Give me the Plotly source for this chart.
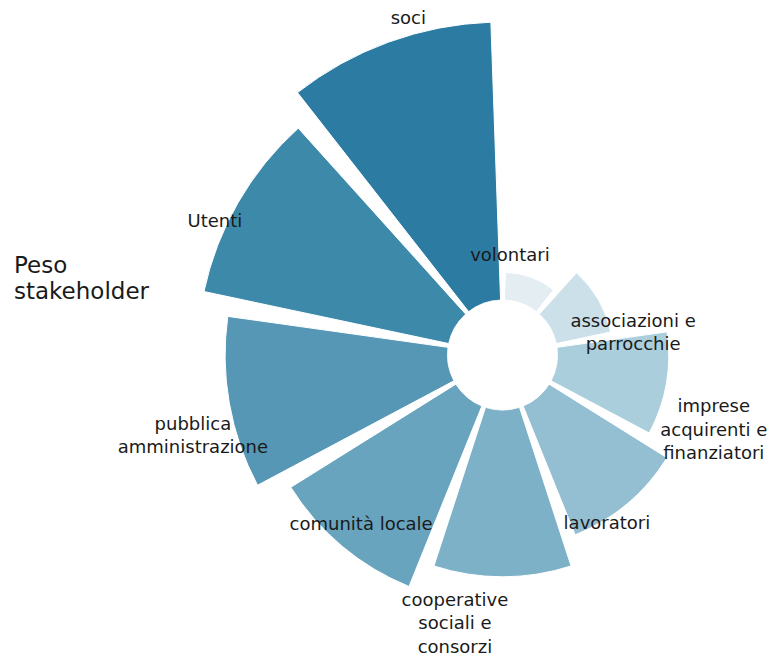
import math
import plotly.graph_objects as go

# Stakeholders in clockwise order, starting at 12 o'clock
categories = [
    "volontari",
    "associazioni e parrocchie",
    "imprese acquirenti e finanziatori",
    "lavoratori",
    "cooperative sociali e consorzi",
    "comunità locale",
    "pubblica amministrazione",
    "Utenti",
    "soci",
]
weights = [1, 2, 4, 5, 6, 7, 8, 9, 10]

# Text shown next to each sector (line breaks as displayed)
label_texts = [
    "volontari",
    "associazioni e<br>parrocchie",
    "imprese<br>acquirenti e<br>finanziatori",
    "lavoratori",
    "cooperative<br>sociali e<br>consorzi",
    "comunità locale",
    "pubblica<br>amministrazione",
    "Utenti",
    "soci",
]

colors = [
    "#e3edf2", "#cbe0e9", "#abcedd", "#94bfd2", "#7db1c8",
    "#68a4be", "#5597b4", "#3d89aa", "#2c7ba2",
]

# label placement (angle in degrees clockwise from top, radius in axis units)
label_theta = [4.3, 80.9, 109.8, 148.3, 190.0, 219.6, 255.2, 294.8, 344.3]
label_r = [1.59, 2.78, 6.1, 5.17, 7.88, 6.0, 9.54, 9.42, 10.54]

n = len(categories)
step = 360 / n
thetas = [i * step + step / 2 for i in range(n)]

W, H = 770, 659
CX, CY = 502.5, 355      # common centre, pixels from top-left
HOLE_PX = 55             # radius of the empty centre
UNIT_PX = 27.8           # pixels per unit of weight

# The rose is split over three polar subplots sharing centre and scale, each
# covering only the angular sector its bars occupy, so the long bars on the
# left can extend further than the space on the right of the centre allows.
# The short right-hand group is drawn last so its labels sit on top.
# (indices, sector in standard degrees, frame radius in px)
groups = [
    ([6, 7, 8], (90, 210), 350),
    ([4, 5], (210, 290), 300),
    ([0, 1, 2, 3], (-70, 90), 230),
]


def sector_bbox(s0, s1):
    a0 = s0 % 360
    a1 = a0 + (s1 - s0)
    pts = [(math.cos(math.radians(a)), math.sin(math.radians(a))) for a in (a0, a1)]
    xs = [0] + [p[0] for p in pts]
    ys = [0] + [p[1] for p in pts]
    for k in range(0, 1081, 90):
        if a0 <= k <= a1:
            xs.append(round(math.cos(math.radians(k))))
            ys.append(round(math.sin(math.radians(k))))
    return min(xs), min(ys), max(xs), max(ys)


def clamp01(v):
    return min(1.0, max(0.0, v))


fig = go.Figure()
layout_polars = {}

for g, (idx, sector, R) in enumerate(groups):
    name = "polar" if g == 0 else f"polar{g + 1}"
    x0, y0, x1, y1 = sector_bbox(*sector)
    dom_x = [clamp01((CX + x0 * R) / W), clamp01((CX + x1 * R) / W)]
    dom_y = [clamp01(1 - (CY - y0 * R) / H), clamp01(1 - (CY - y1 * R) / H)]

    fig.add_trace(go.Barpolar(
        r=[weights[i] for i in idx],
        theta=[thetas[i] for i in idx],
        width=[step * 0.9] * len(idx),
        marker=dict(color=[colors[i] for i in idx],
                    line=dict(color="white", width=1)),
        hovertext=[categories[i] for i in idx],
        hoverinfo="text+r",
        showlegend=False,
        subplot=name,
    ))
    fig.add_trace(go.Scatterpolar(
        r=[label_r[i] for i in idx],
        theta=[label_theta[i] for i in idx],
        mode="text",
        text=[label_texts[i] for i in idx],
        textposition="middle center",
        textfont=dict(family="DejaVu Sans", size=18, color="#1a1a1a"),
        cliponaxis=False,
        hoverinfo="skip",
        showlegend=False,
        subplot=name,
    ))

    layout_polars[name] = dict(
        domain=dict(x=dom_x, y=dom_y),
        sector=list(sector),
        hole=HOLE_PX / R,
        bgcolor="rgba(0,0,0,0)",
        radialaxis=dict(range=[0, (R - HOLE_PX) / UNIT_PX], visible=False,
                        showgrid=False, showline=False, showticklabels=False,
                        ticks=""),
        angularaxis=dict(rotation=90, direction="clockwise", visible=False,
                         showgrid=False, showline=False, showticklabels=False,
                         ticks=""),
    )

title_font = dict(family="DejaVu Sans", size=23, color="#1a1a1a")
fig.update_layout(
    width=W,
    height=H,
    margin=dict(l=0, r=0, t=0, b=0),
    paper_bgcolor="white",
    plot_bgcolor="white",
    annotations=[
        dict(text=line, xref="paper", yref="paper", x=12 / W, y=1 - yc / H,
             xanchor="left", yanchor="middle", align="left", showarrow=False,
             font=title_font)
        for line, yc in (("Peso", 265), ("stakeholder", 291))
    ],
    **layout_polars,
)

fig.write_html("out.html")
